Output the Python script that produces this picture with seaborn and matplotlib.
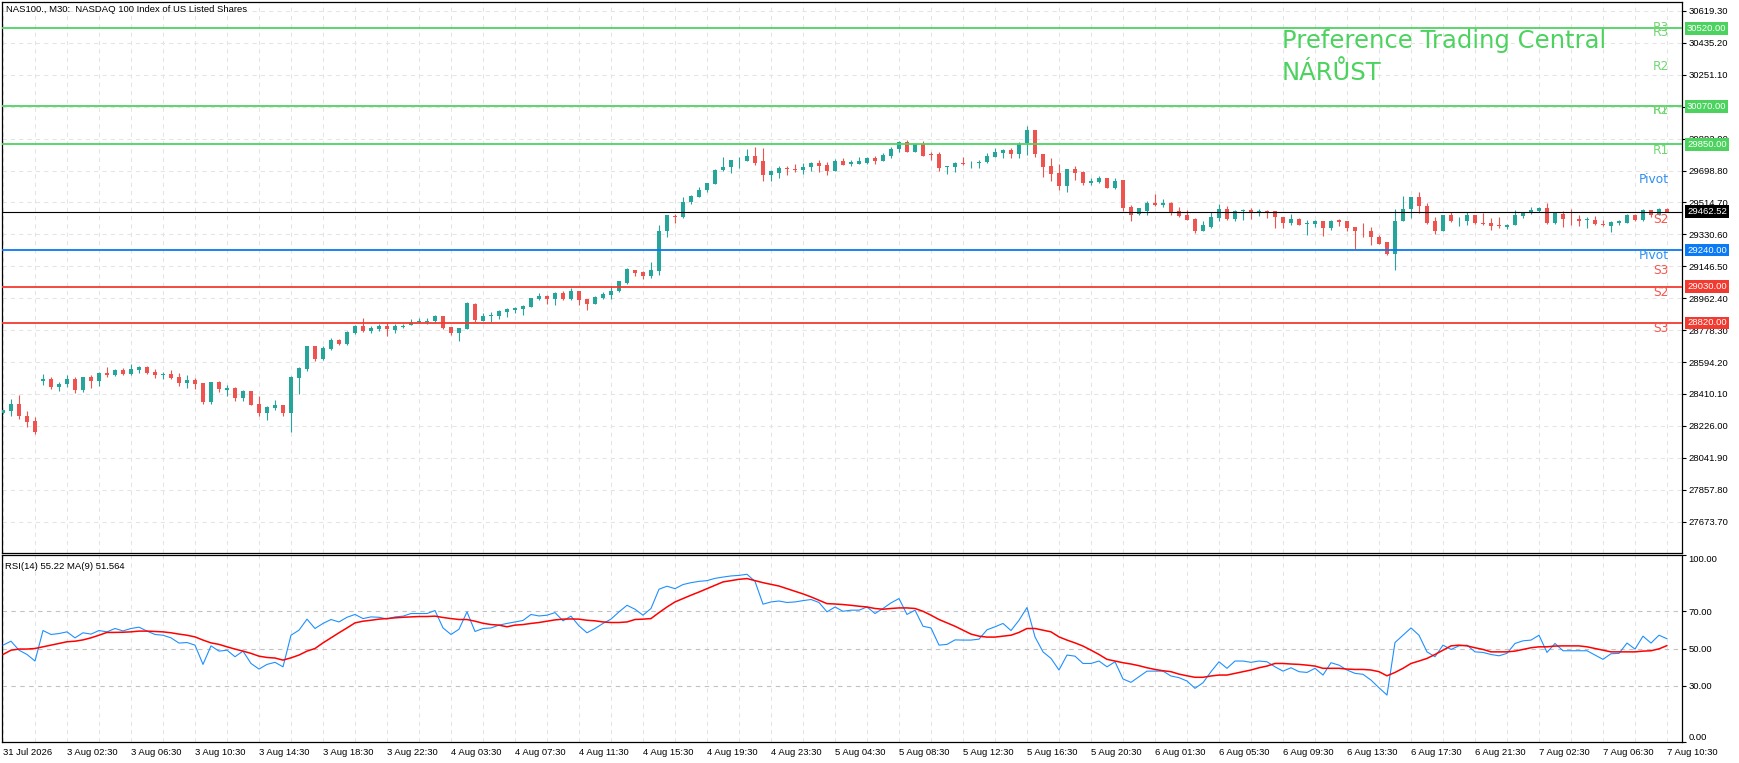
import numpy as np
import pandas as pd
import matplotlib
matplotlib.use("Agg")
import matplotlib.pyplot as plt
import seaborn as sns

# NAS100 M30 candles (bar 0 = 31 Jul, last bar = 7 Aug 10:30)
opens = [28301, 28313, 28355, 28282, 28253, 28485, 28497, 28449, 28466, 28495,
         28434, 28507, 28485, 28530, 28518, 28547, 28526, 28549, 28564, 28535,
         28522, 28524, 28507, 28474, 28489, 28472, 28363, 28478, 28436, 28443,
         28388, 28426, 28351, 28301, 28330, 28345, 28301, 28503, 28555, 28685,
         28612, 28670, 28722, 28698, 28762, 28800, 28773, 28783, 28800, 28777,
         28794, 28808, 28823, 28825, 28829, 28858, 28794, 28762, 28785, 28929,
         28829, 28862, 28858, 28881, 28892, 28900, 28911, 28956, 28975, 28957,
         28990, 28956, 29002, 28956, 28929, 28963, 28980, 29002, 29053, 29128,
         29111, 29090, 29119, 29349, 29439, 29430, 29520, 29549, 29589, 29623,
         29700, 29717, 29758, 29756, 29785, 29756, 29671, 29687, 29715, 29710,
         29704, 29717, 29744, 29733, 29698, 29756, 29735, 29739, 29744, 29773,
         29752, 29785, 29821, 29865, 29808, 29850, 29792, 29792, 29719, 29717,
         29744, 29740, 29740, 29746, 29779, 29798, 29819, 29796, 29858, 29934,
         29796, 29727, 29687, 29612, 29710, 29692, 29629, 29635, 29658, 29600,
         29643, 29491, 29451, 29468, 29514, 29502, 29514, 29468, 29445, 29422,
         29353, 29376, 29428, 29479, 29422, 29468, 29474, 29462, 29468, 29464,
         29433, 29399, 29422, 29389, 29389, 29407, 29366, 29412, 29405, 29376,
         29353, 29353, 29318, 29286, 29217, 29410, 29479, 29549, 29493, 29405,
         29353, 29445, 29412, 29410, 29445, 29399, 29395, 29384, 29372, 29384,
         29435, 29453, 29464, 29485, 29399, 29451, 29422, 29422, 29414, 29416,
         29393, 29378, 29399, 29395, 29441, 29412, 29474, 29441, 29476]
highs = [28320, 28382, 28403, 28311, 28278, 28524, 28507, 28478, 28518, 28510,
         28507, 28518, 28535, 28564, 28555, 28558, 28581, 28574, 28570, 28553,
         28535, 28547, 28530, 28518, 28501, 28472, 28478, 28485, 28462, 28449,
         28434, 28430, 28397, 28343, 28374, 28345, 28512, 28564, 28685, 28685,
         28685, 28731, 28727, 28771, 28806, 28846, 28804, 28816, 28825, 28816,
         28812, 28840, 28850, 28846, 28863, 28862, 28794, 28789, 28938, 28933,
         28879, 28881, 28892, 28904, 28909, 28923, 28961, 28992, 28979, 28998,
         29007, 29019, 29002, 28956, 28973, 28996, 29032, 29059, 29136, 29128,
         29119, 29169, 29387, 29445, 29451, 29549, 29560, 29606, 29629, 29710,
         29779, 29762, 29779, 29825, 29836, 29831, 29704, 29727, 29727, 29735,
         29744, 29750, 29762, 29746, 29767, 29773, 29762, 29779, 29779, 29785,
         29802, 29836, 29871, 29877, 29854, 29871, 29806, 29806, 29727, 29750,
         29779, 29756, 29762, 29802, 29831, 29825, 29831, 29865, 29957, 29934,
         29796, 29769, 29739, 29710, 29723, 29698, 29658, 29669, 29658, 29658,
         29646, 29502, 29485, 29526, 29566, 29537, 29520, 29491, 29474, 29428,
         29405, 29462, 29508, 29497, 29474, 29479, 29485, 29479, 29474, 29464,
         29433, 29451, 29428, 29412, 29412, 29410, 29416, 29422, 29405, 29376,
         29399, 29372, 29326, 29289, 29479, 29554, 29549, 29577, 29514, 29433,
         29445, 29458, 29433, 29458, 29445, 29456, 29428, 29433, 29391, 29472,
         29462, 29491, 29491, 29510, 29462, 29468, 29476, 29441, 29430, 29435,
         29412, 29405, 29416, 29451, 29447, 29476, 29474, 29483, 29485]
lows = [28297, 28282, 28267, 28221, 28178, 28461, 28439, 28428, 28451, 28416,
        28424, 28445, 28457, 28509, 28512, 28518, 28520, 28532, 28526, 28503,
        28497, 28497, 28457, 28445, 28439, 28351, 28351, 28422, 28399, 28370,
        28370, 28347, 28284, 28261, 28319, 28282, 28192, 28411, 28543, 28601,
        28606, 28666, 28691, 28691, 28756, 28766, 28762, 28773, 28743, 28762,
        28791, 28806, 28817, 28815, 28825, 28785, 28750, 28716, 28785, 28827,
        28829, 28827, 28840, 28854, 28877, 28865, 28911, 28954, 28929, 28923,
        28952, 28950, 28921, 28894, 28929, 28959, 28957, 28996, 29044, 29090,
        29073, 29078, 29096, 29314, 29395, 29424, 29504, 29545, 29577, 29620,
        29698, 29687, 29715, 29756, 29729, 29641, 29641, 29658, 29675, 29692,
        29681, 29698, 29692, 29675, 29694, 29733, 29723, 29735, 29739, 29739,
        29752, 29773, 29804, 29808, 29808, 29785, 29762, 29698, 29681, 29692,
        29733, 29715, 29715, 29744, 29779, 29773, 29773, 29773, 29790, 29779,
        29664, 29641, 29589, 29577, 29646, 29618, 29618, 29629, 29600, 29595,
        29468, 29410, 29445, 29445, 29497, 29491, 29445, 29430, 29416, 29336,
        29349, 29370, 29410, 29416, 29405, 29416, 29422, 29439, 29428, 29366,
        29366, 29387, 29382, 29326, 29372, 29320, 29355, 29378, 29349, 29249,
        29314, 29268, 29274, 29211, 29123, 29410, 29424, 29453, 29389, 29334,
        29349, 29401, 29378, 29387, 29389, 29382, 29355, 29366, 29360, 29384,
        29424, 29447, 29458, 29389, 29389, 29372, 29384, 29380, 29366, 29384,
        29378, 29343, 29384, 29395, 29407, 29408, 29433, 29441, 29460]
closes = [28317, 28355, 28282, 28248, 28190, 28495, 28451, 28466, 28495, 28434,
          28507, 28485, 28530, 28518, 28549, 28526, 28553, 28564, 28532, 28518,
          28526, 28503, 28474, 28489, 28468, 28363, 28478, 28439, 28443, 28388,
          28426, 28347, 28301, 28334, 28345, 28301, 28507, 28558, 28685, 28612,
          28674, 28720, 28698, 28766, 28800, 28771, 28789, 28800, 28783, 28800,
          28804, 28823, 28831, 28833, 28858, 28789, 28762, 28789, 28934, 28835,
          28862, 28865, 28886, 28898, 28904, 28917, 28961, 28973, 28956, 28992,
          28956, 29002, 28950, 28929, 28967, 28986, 29007, 29059, 29130, 29107,
          29090, 29123, 29353, 29445, 29431, 29520, 29554, 29589, 29629, 29704,
          29721, 29762, 29762, 29785, 29744, 29671, 29698, 29715, 29706, 29704,
          29721, 29744, 29727, 29698, 29756, 29733, 29746, 29752, 29773, 29752,
          29790, 29825, 29865, 29808, 29850, 29785, 29788, 29715, 29723, 29744,
          29739, 29744, 29750, 29785, 29808, 29819, 29796, 29850, 29934, 29792,
          29721, 29681, 29612, 29710, 29687, 29629, 29641, 29658, 29600, 29641,
          29485, 29445, 29485, 29514, 29502, 29514, 29462, 29439, 29416, 29353,
          29382, 29433, 29479, 29422, 29468, 29474, 29460, 29466, 29462, 29430,
          29399, 29422, 29387, 29395, 29407, 29366, 29410, 29401, 29366, 29349,
          29349, 29314, 29278, 29217, 29410, 29479, 29549, 29493, 29395, 29349,
          29445, 29410, 29416, 29445, 29395, 29389, 29378, 29378, 29387, 29441,
          29456, 29470, 29481, 29399, 29456, 29418, 29418, 29410, 29418, 29389,
          29382, 29401, 29405, 29441, 29412, 29474, 29441, 29476, 29462.52]

# RSI(14) and its MA(9)
rsi = [51.8, 53.9, 49.1, 46.8, 43.3, 59.6, 57.5, 58.0, 58.9, 55.7,
       58.4, 57.7, 59.6, 58.9, 60.7, 59.4, 60.7, 61.4, 59.3, 57.5,
       57.1, 55.7, 52.9, 53.2, 51.8, 41.5, 51.4, 48.6, 49.1, 45.6,
       48.6, 42.0, 39.0, 41.5, 42.6, 40.2, 57.1, 59.8, 65.7, 60.7,
       63.4, 65.5, 64.2, 66.7, 68.2, 66.0, 66.9, 66.7, 65.8, 66.9,
       67.3, 68.7, 68.7, 68.7, 70.3, 61.0, 57.5, 60.3, 69.6, 59.1,
       60.7, 61.0, 62.5, 63.4, 64.2, 65.0, 68.2, 67.4, 67.8, 69.2,
       64.8, 67.3, 62.1, 58.4, 60.7, 63.4, 65.7, 69.6, 73.1, 71.0,
       67.8, 71.4, 81.7, 83.3, 82.0, 84.2, 85.2, 85.9, 86.3, 87.5,
       88.2, 88.8, 89.1, 89.7, 85.9, 73.7, 74.9, 75.4, 74.6, 74.9,
       75.6, 76.2, 74.6, 69.6, 72.2, 69.9, 70.5, 70.5, 72.2, 68.7,
       71.4, 74.4, 76.7, 68.2, 70.5, 61.9, 61.0, 51.8, 52.2, 54.6,
       54.5, 54.5, 55.0, 60.0, 61.6, 63.4, 59.6, 65.1, 71.9, 56.2,
       48.2, 44.7, 38.5, 46.5, 45.9, 42.0, 42.0, 43.3, 40.2, 42.9,
       33.7, 31.9, 34.9, 37.9, 37.9, 37.9, 35.3, 34.4, 32.6, 28.7,
       31.7, 37.6, 42.9, 39.4, 43.3, 43.3, 42.6, 43.3, 42.9, 40.2,
       37.9, 39.7, 37.6, 37.2, 39.4, 35.8, 42.4, 41.1, 38.5, 36.7,
       36.2, 33.1, 29.0, 25.1, 53.2, 57.1, 61.0, 57.1, 48.2, 45.6,
       51.8, 49.5, 51.4, 51.8, 48.2, 47.9, 46.8, 46.1, 47.4, 52.7,
       54.1, 54.5, 57.1, 47.9, 52.7, 48.8, 48.8, 48.8, 48.8, 46.5,
       44.2, 47.2, 47.4, 52.9, 49.7, 56.6, 52.9, 57.1, 55.22]
rsi_ma = [46.8, 49.1, 49.7, 49.7, 50.0, 50.9, 51.8, 52.7, 53.6, 53.9,
          54.6, 55.7, 57.1, 58.6, 58.6, 58.7, 58.9, 59.3, 59.3, 59.1,
          58.9, 58.4, 57.7, 57.1, 56.2, 54.5, 53.0, 52.2, 50.9, 49.7,
          48.6, 47.4, 45.9, 45.2, 44.9, 43.8, 45.0, 46.5, 48.6, 50.0,
          53.0, 55.7, 58.4, 61.0, 63.7, 64.6, 65.1, 65.7, 66.0, 66.4,
          66.7, 66.9, 67.1, 67.1, 67.3, 66.6, 66.0, 65.5, 65.5, 64.6,
          63.5, 62.8, 62.5, 61.6, 62.5, 62.8, 63.4, 63.9, 64.6, 65.3,
          65.7, 65.8, 65.7, 65.1, 64.8, 64.2, 63.9, 63.9, 64.2, 65.5,
          65.7, 66.0, 69.2, 72.2, 74.9, 76.7, 78.5, 80.2, 82.0, 83.8,
          85.6, 86.3, 87.0, 87.4, 86.3, 85.2, 84.3, 83.4, 82.0, 80.6,
          79.2, 77.6, 75.8, 74.0, 73.8, 73.5, 73.1, 72.6, 72.2, 71.4,
          71.0, 71.4, 71.7, 71.7, 71.4, 69.9, 67.8, 65.5, 63.7, 61.9,
          59.8, 57.7, 56.6, 56.1, 56.1, 56.6, 57.1, 58.6, 60.7, 60.7,
          59.8, 58.9, 56.2, 54.5, 53.0, 51.3, 49.1, 46.8, 44.2, 43.3,
          42.4, 41.7, 40.8, 39.7, 38.8, 38.1, 37.6, 36.3, 35.4, 34.6,
          34.6, 35.3, 35.8, 35.8, 36.7, 37.6, 38.5, 39.7, 40.6, 42.0,
          42.0, 41.7, 41.5, 41.1, 40.6, 39.4, 39.4, 39.4, 39.0, 38.8,
          38.8, 38.5, 37.6, 35.4, 37.2, 39.4, 42.0, 43.3, 44.7, 46.8,
          49.1, 51.4, 51.8, 51.4, 50.4, 49.5, 48.2, 48.2, 48.2, 48.6,
          49.5, 50.4, 50.9, 50.9, 51.3, 51.4, 51.4, 51.4, 50.9, 50.0,
          49.1, 48.2, 48.2, 48.2, 48.2, 48.6, 48.8, 49.8, 51.564]

time_labels = ["31 Jul 2026", "3 Aug 02:30", "3 Aug 06:30", "3 Aug 10:30", "3 Aug 14:30",
               "3 Aug 18:30", "3 Aug 22:30", "4 Aug 03:30", "4 Aug 07:30", "4 Aug 11:30",
               "4 Aug 15:30", "4 Aug 19:30", "4 Aug 23:30", "5 Aug 04:30", "5 Aug 08:30",
               "5 Aug 12:30", "5 Aug 16:30", "5 Aug 20:30", "6 Aug 01:30", "6 Aug 05:30",
               "6 Aug 09:30", "6 Aug 13:30", "6 Aug 17:30", "6 Aug 21:30", "7 Aug 02:30",
               "7 Aug 06:30", "7 Aug 10:30"]
price_ticks = [27673.70, 27857.80, 28041.90, 28226.00, 28410.10, 28594.20, 28778.30,
               28962.40, 29146.50, 29330.60, 29514.70, 29698.80, 29882.90, 30067.00,
               30251.10, 30435.20, 30619.30]
rsi_ticks = [0, 30, 50, 70, 100]

# pivot levels (horizontal lines + price boxes)
level_prices = [30520, 30070, 29850, 29240, 29030, 28820]
level_kinds = ["R", "R", "R", "P", "S", "S"]
last_price = 29462.52

# text tags near the right edge (some sit on top of each other, as on the chart)
tag_names = ["R3", "R3", "R2", "R2", "R1", "R1", "Pivot", "S2", "Pivot", "S3", "S2", "S3"]
tag_prices = [30524, 30493, 30297, 30044, 30044, 29813, 29646, 29416, 29209, 29123, 28996, 28789]

GREEN = "#4cd35f"
RED = "#f23a30"
BLUE = "#0a7af5"
line_col = {"R": GREEN, "P": BLUE, "S": RED}
tag_col = {"R": "#72d672", "P": "#2f8ff0", "S": "#f5574b"}

sns.set_style("white")
plt.rcParams['font.family'] = ['Liberation Sans', 'DejaVu Sans']

W, H = 1740, 763
fig = plt.figure(figsize=(W / 100, H / 100), dpi=100)


def rect(x0, y0, x1, y1):
    return [x0 / W, 1 - y1 / H, (x1 - x0) / W, (y1 - y0) / H]


ax = fig.add_axes(rect(2, 2, 1682, 553))
ax2 = fig.add_axes(rect(2, 555, 1682, 742))

df = pd.DataFrame({"open": opens, "high": highs, "low": lows, "close": closes})
df["bar"] = np.arange(len(df))
df["rsi"] = rsi
df["ma"] = rsi_ma
up = df["close"] >= df["open"]
cols = np.where(up, "#26a69a", "#ef5350")

# candles
ax.vlines(df["bar"], df["low"], df["high"], colors=cols, lw=0.8, zorder=3)
body_low = df[["open", "close"]].min(axis=1)
body_h = (df["close"] - df["open"]).abs().clip(lower=4)
ax.bar(df["bar"], body_h, bottom=body_low, width=0.62, color=cols, lw=0, zorder=3)

for p, k in zip(level_prices, level_kinds):
    ax.axhline(p, color=line_col[k], lw=1.3, zorder=4)
ax.axhline(last_price, color="black", lw=0.8, zorder=4)

xmin, xmax = -0.125, 209.875
ax.set_xlim(xmin, xmax)
ax.set_ylim(27493, 30671)

grid_kw = dict(color="#e4e4e4", ls=(0, (4, 4)), lw=0.75)
for a in (ax, ax2):
    a.set_xticks(np.arange(0, len(df), 8))
    a.set_xticks(np.arange(4, len(df) + 1, 8), minor=True)
    a.grid(True, which="both", axis="x", **grid_kw)
    a.set_axisbelow(True)
    for s in a.spines.values():
        s.set_color("black")
        s.set_linewidth(0.9)
    a.yaxis.tick_right()

ax.set_yticks(price_ticks)
ax.set_yticklabels([f"{v:.2f}" for v in price_ticks])
ax.grid(True, axis="y", **grid_kw)
ax.tick_params(axis="x", which="both", length=0, labelbottom=False)
ax.tick_params(axis="y", direction="out", length=3, width=0.8, pad=1.5,
               labelsize=6.8, colors="black")

# price boxes on the right axis
box_prices = level_prices + [last_price]
box_cols = [line_col[k] for k in level_kinds] + ["black"]
for p, c in zip(box_prices, box_cols):
    ax.annotate(f"{p:.2f}", xy=(1, p), xycoords=("axes fraction", "data"),
                xytext=(5, 0), textcoords="offset pixels", ha="left", va="center",
                color="white", fontsize=6.8, annotation_clip=False, zorder=10,
                bbox=dict(boxstyle="square,pad=0.2", fc=c, ec="none"))

# level tags
for name, p in zip(tag_names, tag_prices):
    k = "P" if name == "Pivot" else name[0]
    ax.text(0.9923, p, name, transform=ax.get_yaxis_transform(), ha="right",
            va="center", fontsize=8.8, color=tag_col[k], family="DejaVu Sans", zorder=6)

ax.text(0.0024, 0.9855, "NAS100., M30:  NASDAQ 100 Index of US Listed Shares",
        transform=ax.transAxes, fontsize=6.8, ha="left", va="center", color="black")

fig.text(1282 / W, 1 - 41 / H, "Preference Trading Central", fontsize=17.5,
         color=GREEN, family="DejaVu Sans", ha="left", va="center")
fig.text(1282 / W, 1 - 73 / H, "NÁRŮST", fontsize=17.5,
         color=GREEN, family="DejaVu Sans", ha="left", va="center")

# RSI panel
for lvl in (30, 50, 70):
    ax2.axhline(lvl, color="#c2c2c2", ls=(0, (4, 4)), lw=0.8, zorder=1)
sns.lineplot(data=df, x="bar", y="rsi", ax=ax2, color="#1e90ff", lw=0.8, zorder=3)
sns.lineplot(data=df, x="bar", y="ma", ax=ax2, color="red", lw=1.1, zorder=4)
ax2.set_xlabel("")
ax2.set_ylabel("")
ax2.set_xlim(xmin, xmax)
ax2.set_ylim(0, 100)
ax2.set_yticks(rsi_ticks)
ylabs = ax2.set_yticklabels([f"{v:.2f}" for v in rsi_ticks])
ylabs[0].set_va("bottom")
ylabs[-1].set_va("top")
ax2.set_xticklabels(time_labels, ha="left")
ax2.tick_params(axis="x", which="major", direction="out", length=3, width=0.8,
                pad=1.5, labelsize=6.8, colors="black")
ax2.tick_params(axis="x", which="minor", length=0)
ax2.tick_params(axis="y", direction="out", length=3, width=0.8, pad=1.5,
                labelsize=6.8, colors="black")
ax2.text(0.0015, 0.941, "RSI(14) 55.22 MA(9) 51.564", transform=ax2.transAxes,
         fontsize=6.8, ha="left", va="center", color="black")

fig.savefig("out.png", dpi=100)
